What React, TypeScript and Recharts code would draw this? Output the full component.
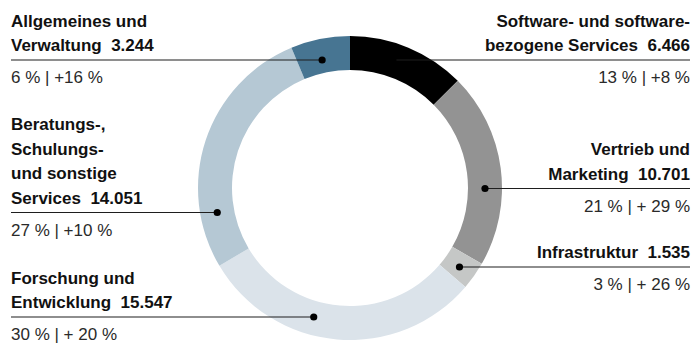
import React from "react";
import { PieChart, Pie, Cell } from "recharts";

const categories = [
  "Software- und softwarebezogene Services",
  "Vertrieb und Marketing",
  "Infrastruktur",
  "Forschung und Entwicklung",
  "Beratungs-, Schulungs- und sonstige Services",
  "Allgemeines und Verwaltung",
];
const values = [6466, 10701, 1535, 15547, 14051, 3244];
const valueLabels = ["6.466", "10.701", "1.535", "15.547", "14.051", "3.244"];
const shareLabels = ["13 %", "21 %", "3 %", "30 %", "27 %", "6 %"];
const changeLabels = ["+8 %", "+ 29 %", "+ 26 %", "+ 20 %", "+10 %", "+16 %"];
const titleLines = [
  ["Software- und software-", "bezogene Services"],
  ["Vertrieb und", "Marketing"],
  ["Infrastruktur"],
  ["Forschung und", "Entwicklung"],
  ["Beratungs-,", "Schulungs-", "und sonstige", "Services"],
  ["Allgemeines und", "Verwaltung"],
];

const colors = ["#000000", "#939393", "#c5c7c6", "#dbe3ea", "#b5c8d4", "#477592"];

// layout of the annotation for each slice
const labelLayout = [
  { side: 1, lineY: 60, dotR: 135 },
  { side: 1, lineY: 188.5, dotR: 135 },
  { side: 1, lineY: 267, dotR: 135 },
  { side: -1, lineY: 317, dotR: 134 },
  { side: -1, lineY: 212.5, dotR: 135 },
  { side: -1, lineY: 60, dotR: 131 },
];

const data = categories.map((name, i) => ({ name, value: values[i] }));

const LEFT_X = 11;
const RIGHT_X = 690;
const FONT = "'Liberation Sans', Arial, Helvetica, sans-serif";

const renderLabel = (props: any) => {
  const { cx, cy, index } = props;
  const lay = labelLayout[index];
  const dy = lay.lineY - cy;
  const dx = Math.sqrt(Math.max(0, lay.dotR * lay.dotR - dy * dy));
  const dotX = cx + lay.side * dx;
  const y = lay.lineY;
  const lines = titleLines[index];
  const isRight = lay.side > 0;
  const tx = isRight ? RIGHT_X : LEFT_X;
  const anchor = isRight ? "end" : "start";
  const n = lines.length;
  return (
    <g key={`lbl-${index}`}>
      <line
        x1={isRight ? dotX : LEFT_X}
        x2={isRight ? RIGHT_X : dotX}
        y1={y}
        y2={y}
        stroke="#1e1e1e"
        strokeWidth={1.2}
      />
      <circle cx={dotX} cy={y} r={3.6} fill="#000" />
      {lines.map((l, k) => (
        <text
          key={k}
          x={tx}
          y={y - 9 - (n - 1 - k) * 24.5}
          textAnchor={anchor}
          fontFamily={FONT}
          fontWeight="bold"
          fontSize={17}
          fill="#111"
        >
          {k === n - 1 ? `${l}\u00A0\u00A0${valueLabels[index]}` : l}
        </text>
      ))}
      <text
        x={tx}
        y={y + 23}
        textAnchor={anchor}
        fontFamily={FONT}
        fontSize={17}
        fill="#2a2a2a"
      >
        {`${shareLabels[index]} | ${changeLabels[index]}`}
      </text>
    </g>
  );
};

export default function App() {
  return (
    <div style={{ position: "absolute", left: 0, top: 0, width: 700, height: 343, background: "#fff" }}>
      <PieChart width={700} height={343} margin={{ top: 0, right: 0, bottom: 0, left: 0 }}>
        <Pie
          data={data}
          dataKey="value"
          nameKey="name"
          cx={350}
          cy={188}
          innerRadius={118}
          outerRadius={152}
          startAngle={90}
          endAngle={-270}
          stroke="none"
          isAnimationActive={false}
          label={renderLabel}
          labelLine={false}
        >
          {data.map((d, i) => (
            <Cell key={d.name} fill={colors[i]} />
          ))}
        </Pie>
      </PieChart>
    </div>
  );
}
